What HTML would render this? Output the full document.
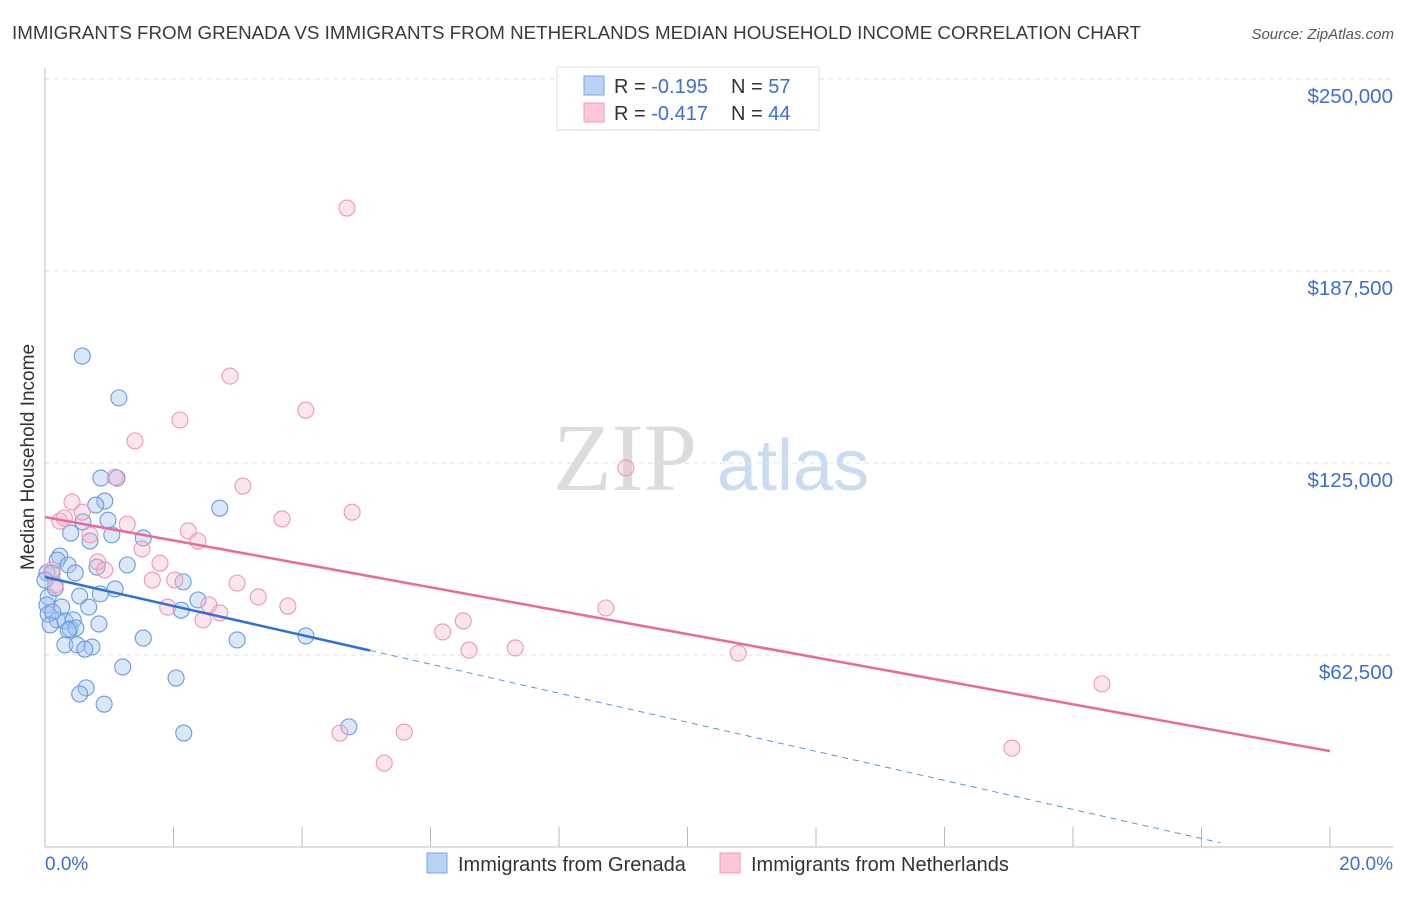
<!DOCTYPE html>
<html><head><meta charset="utf-8"><style>
body{margin:0;background:#fff;font-family:"Liberation Sans",sans-serif;}
</style></head><body>
<svg id="chart" width="1406" height="892" xmlns="http://www.w3.org/2000/svg" font-family="Liberation Sans, sans-serif">
<text x="12" y="39" font-size="18.7" fill="#3a3a3a" textLength="1129" lengthAdjust="spacingAndGlyphs">IMMIGRANTS FROM GRENADA VS IMMIGRANTS FROM NETHERLANDS MEDIAN HOUSEHOLD INCOME CORRELATION CHART</text>
<text x="1394" y="39" font-size="15" fill="#555" font-style="italic" text-anchor="end">Source: ZipAtlas.com</text>
<text transform="translate(34,457) rotate(-90)" font-size="19" fill="#333" text-anchor="middle">Median Household Income</text>
<g><text x="553" y="490" font-size="96" font-family="Liberation Serif, serif" fill="#dcdcdc">ZIP</text><text x="717" y="490" font-size="72" fill="#c9dcf2">atlas</text></g>
<g id="grid"></g><g id="marks"></g>
<g>
<rect x="557" y="67" width="262" height="63" fill="#fff" stroke="#ddd"/>
<rect x="584" y="76" width="20" height="19" fill="#b8d3f5" stroke="#7aa6e0"/>
<rect x="584" y="103" width="20" height="19" fill="#fcc8d8" stroke="#ee9ab5"/>
<text x="614" y="93" font-size="20" fill="#333">R = <tspan fill="#3d6fd0">-0.195</tspan></text>
<text x="731" y="93" font-size="20" fill="#333">N = <tspan fill="#3d6fd0">57</tspan></text>
<text x="614" y="120" font-size="20" fill="#333">R = <tspan fill="#3d6fd0">-0.417</tspan></text>
<text x="731" y="120" font-size="20" fill="#333">N = <tspan fill="#3d6fd0">44</tspan></text>
</g>
<text x="45" y="870" font-size="19" fill="#3d6fd0">0.0%</text>
<text x="1393" y="870" font-size="19" fill="#3d6fd0" text-anchor="end">20.0%</text>
<g>
<rect x="427" y="853" width="20" height="20" fill="#b8d3f5" stroke="#7aa6e0"/>
<text x="458" y="871" font-size="20" fill="#333">Immigrants from Grenada</text>
<rect x="720" y="853" width="20" height="20" fill="#fcc8d8" stroke="#ee9ab5"/>
<text x="751" y="871" font-size="20" fill="#333">Immigrants from Netherlands</text>
</g>
</svg>
<script>
const yTicks=[62500,125000,187500,250000];
const yTickLabels=["$62,500","$125,000","$187,500","$250,000"];
const xTicks=[0,2,4,6,8,10,12,14,16,18,20];
const blueX=[0.58,1.15,0.87,1.12,0.93,0.79,2.72,0.59,0.98,1.04,1.53,0.40,0.70,0.23,0.19,0.36,1.28,0.81,0.03,0.47,0.11,1.09,2.15,0.86,0.54,0.05,2.38,0.03,0.26,0.68,2.12,0.05,0.19,0.31,0.44,0.39,0.84,0.48,0.36,1.53,2.99,4.06,0.31,0.50,0.73,0.62,1.21,2.04,0.64,0.54,0.92,2.16,4.73,0.16,0.0,0.12,0.08];
const blueY=[159.8,146.2,120.1,120.1,112.6,111.3,110.3,105.8,106.4,101.6,100.6,102.2,99.6,94.7,93.4,91.8,91.8,91.1,89.2,89.2,89.2,84.0,86.3,82.4,81.7,81.4,80.4,78.8,78.1,78.1,77.1,75.8,73.9,73.6,73.9,71.0,72.6,71.3,70.6,68.0,67.4,68.7,65.8,65.8,65.1,64.4,58.6,55.0,51.8,49.8,46.5,37.1,39.1,84.3,86.9,76.5,72.3];
const pinkX=[4.70,2.88,4.06,2.10,1.40,9.04,1.09,3.08,0.42,4.78,3.69,0.23,0.30,0.58,1.28,2.23,2.38,0.70,1.51,1.79,0.82,0.93,1.67,2.02,2.99,3.32,1.91,2.55,3.78,2.72,2.46,8.73,6.51,6.19,6.60,7.32,10.79,16.45,4.59,5.59,5.28,15.05,0.16,0.11];
const pinkY=[208.0,153.3,142.2,139.0,132.2,123.4,120.4,117.5,112.3,109.0,106.8,106.1,107.1,109.0,105.1,102.9,99.6,101.6,97.0,92.4,92.8,90.2,86.9,86.9,85.9,81.4,78.1,78.8,78.4,76.2,73.9,77.8,73.6,70.0,64.1,64.8,63.1,53.1,37.1,37.4,27.3,32.2,85.3,90.2];
const blueTrend=[87.9,-4.73,5.06,18.29];
const pinkTrend=[107.4,31.2];
const X=p=>45+p*64.25, Y=v=>847-v/250000*768;
const NS="http://www.w3.org/2000/svg";
function mk(parent,tag,attrs){const e=document.createElementNS(NS,tag);for(const k in attrs)e.setAttribute(k,attrs[k]);parent.appendChild(e);return e;}
const gridG=document.getElementById('grid'),marksG=document.getElementById('marks');
yTicks.forEach((t,i)=>{
 const l=mk(gridG,'line',{x1:45,x2:1393,y1:Y(t),y2:Y(t),stroke:'#e2e2e2','stroke-dasharray':'5,4'});
 
 
 const tx=mk(gridG,'text',{x:1393,y:Y(t)+24,'font-size':20.5,fill:'#3d6fd0','text-anchor':'end'});
 tx.textContent=yTickLabels[i];
 
 
});
const ax=mk(gridG,'line',{x1:45,x2:45,y1:68,y2:847,stroke:'#bbb'});


const bx=mk(gridG,'line',{x1:45,x2:1393,y1:847,y2:847,stroke:'#bbb'});


xTicks.forEach(t=>{const l=mk(gridG,'line',{x1:X(t),x2:X(t),y1:827,y2:847,stroke:'#bbb'});
 
 });
function dots(xs,ys,fill,stroke,name){xs.forEach((x,i)=>{const c=mk(marksG,'circle',{cx:X(x),cy:Y(ys[i]*1000),r:8,fill:fill,stroke:stroke,'stroke-width':1.1});
 
 });}
dots(blueX,blueY,'rgba(160,196,240,0.4)','#6a9ade','grenada-point');
dots(pinkX,pinkY,'rgba(248,180,202,0.35)','#eb98b5','netherlands-point');
const bt=p=>(blueTrend[0]+blueTrend[1]*p)*1000;
const b1=mk(marksG,'line',{x1:X(0),y1:Y(bt(0)),x2:X(blueTrend[2]),y2:Y(bt(blueTrend[2])),stroke:'#2f6fd6','stroke-width':2.5});


const b2=mk(marksG,'line',{x1:X(blueTrend[2]),y1:Y(bt(blueTrend[2])),x2:X(blueTrend[3]),y2:Y(bt(blueTrend[3])),stroke:'#5e92da','stroke-width':1,'stroke-dasharray':'6,5'});


const p1=mk(marksG,'line',{x1:X(0),y1:Y(pinkTrend[0]*1000),x2:X(20),y2:Y(pinkTrend[1]*1000),stroke:'#e8699a','stroke-width':2.5});


</script>
</body></html>
